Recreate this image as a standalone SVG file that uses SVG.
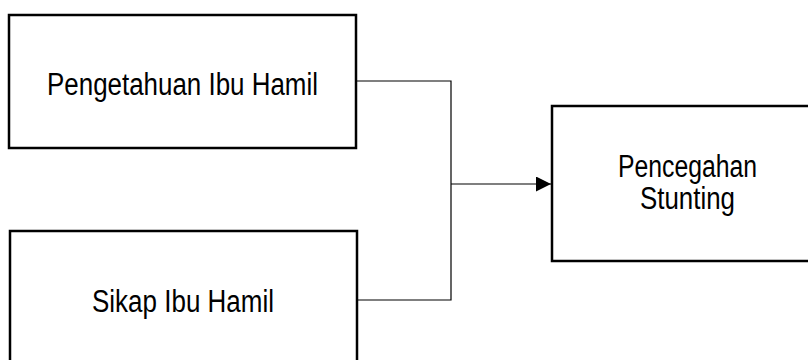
<svg xmlns="http://www.w3.org/2000/svg" width="808" height="360" viewBox="0 0 808 360">
<style>
.box{fill:#fff;stroke:#000;stroke-width:2.5}
.lbl{font-family:"Liberation Sans",Arial,sans-serif;font-size:31px;fill:#000;text-anchor:middle}
.conn{fill:none;stroke:#000;stroke-width:1.2}
</style>
<defs>
<marker id="arr" markerWidth="15" markerHeight="15" refX="15" refY="7.5" orient="auto" markerUnits="userSpaceOnUse">
<polygon points="0,0 15,7.5 0,15" fill="#000"/>
</marker>
</defs>
<rect width="808" height="360" fill="#fff"/>
<g id="connectors">
<path class="conn" d="M356,81 H451 V300 H357"/>
<path class="conn" d="M451,184 H551" marker-end="url(#arr)"/>
</g>
<g id="node-pengetahuan">
<rect class="box" x="9" y="15" width="347" height="133"/>
<text class="lbl" x="182.5" y="95" textLength="271" lengthAdjust="spacingAndGlyphs">Pengetahuan Ibu Hamil</text>
</g>
<g id="node-sikap">
<rect class="box" x="10" y="231" width="347" height="140"/>
<text class="lbl" x="183" y="312" textLength="182" lengthAdjust="spacingAndGlyphs">Sikap Ibu Hamil</text>
</g>
<g id="node-pencegahan">
<rect class="box" x="552" y="106" width="270" height="155"/>
<text class="lbl" x="687.5" y="177" textLength="139" lengthAdjust="spacingAndGlyphs">Pencegahan</text>
<text class="lbl" x="687.5" y="209" textLength="95" lengthAdjust="spacingAndGlyphs">Stunting</text>
</g>
</svg>
